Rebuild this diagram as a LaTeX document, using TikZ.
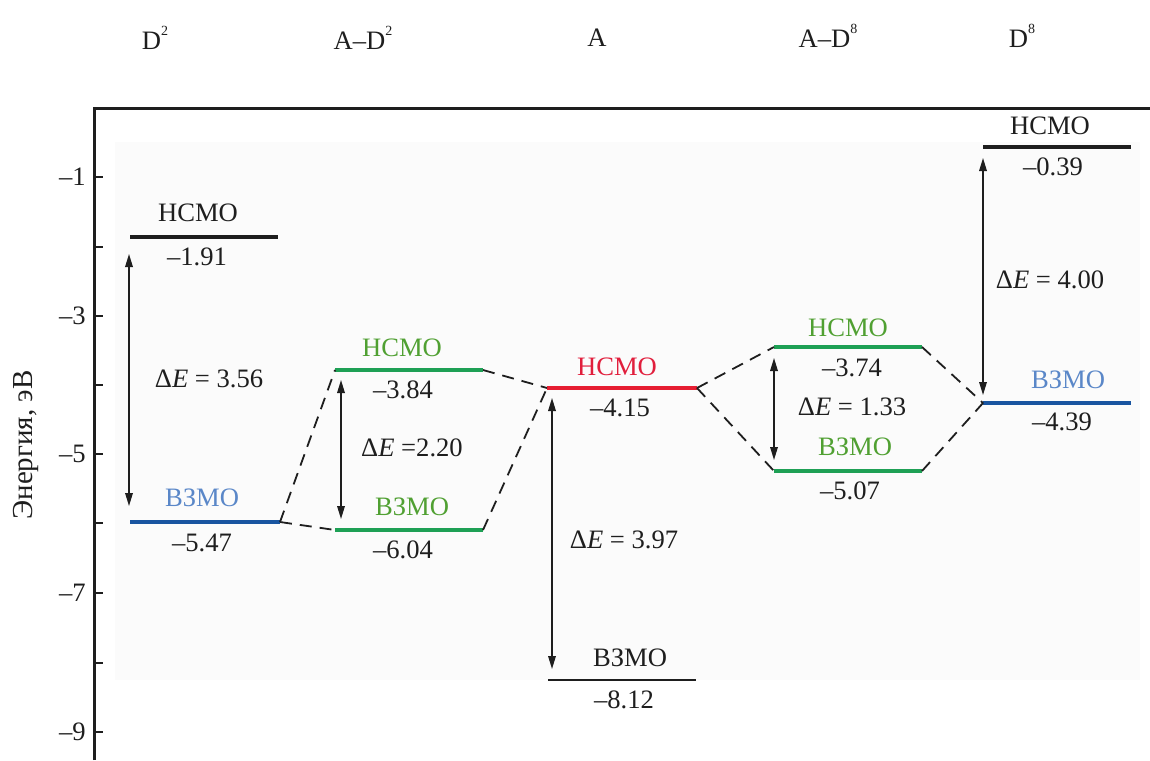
\documentclass[tikz,border=0pt]{standalone}
\usepackage{fontspec}
\setmainfont{Liberation Serif}
\usetikzlibrary{arrows.meta}
\definecolor{bgc}{RGB}{251,251,251}
\definecolor{grl}{RGB}{30,160,85}
\definecolor{grt}{RGB}{80,160,50}
\definecolor{rdl}{RGB}{230,30,50}
\definecolor{rdt}{RGB}{225,30,60}
\definecolor{bll}{RGB}{25,85,160}
\definecolor{blt}{RGB}{90,135,200}
\definecolor{blk}{RGB}{30,30,30}
\newcommand{\supn}[1]{\raisebox{0.5em}{\fontsize{7}{8}\selectfont #1}}
\begin{document}
\begin{tikzpicture}[x=0.5pt,y=-0.5pt,
  font=\fontsize{13.3}{15}\selectfont,
  lvl/.style={line width=1.7pt},
  conn/.style={dash pattern=on 6pt off 4pt, line width=0.9pt, blk},
  gaparrow/.style={{Triangle[length=6.5pt,width=3.8pt]}-{Triangle[length=6.5pt,width=3.8pt]}, line width=0.7pt, blk},
  lab/.style={inner sep=0pt, anchor=center, text=blk},
  hdr/.style={inner sep=0pt, anchor=center, text=blk}]
\useasboundingbox (0,0) rectangle (1150,760);
\fill[bgc] (115,142) rectangle (1140,680);
% axes
\draw[line width=1.5pt, blk] (94,760) -- (94,108) -- (1150,108);
\foreach \v/\yy in {1/177,3/316,5/454,7/593,9/732}{
  \draw[line width=1.2pt, blk] (94,\yy) -- (103,\yy);
  \node[lab, anchor=east] (t\v) at (86,\yy) {–\v};
}
\foreach \yy in {247,385,523,663}{
  \draw[line width=1.2pt, blk] (94,\yy) -- (103,\yy);
}
\node[lab, rotate=90, font=\fontsize{14.5}{16}\selectfont] (ylab) at (26,445) {Энергия, эВ};
% headers
\node[hdr] (h1) at (155,38) {D\supn{2}};
\node[hdr] (h2) at (363,38) {A–D\supn{2}};
\node[hdr] (h3) at (597,38) {A};
\node[hdr] (h4) at (828,36) {A–D\supn{8}};
\node[hdr] (h5) at (1022,36) {D\supn{8}};
% level endpoints
\coordinate (d2lL) at (130,237); \coordinate (d2lR) at (278,237);
\coordinate (d2hL) at (130,522); \coordinate (d2hR) at (280,522);
\coordinate (a2lL) at (335,370); \coordinate (a2lR) at (483,370);
\coordinate (a2hL) at (335,530); \coordinate (a2hR) at (483,530);
\coordinate (alL) at (547,388); \coordinate (alR) at (697,388);
\coordinate (ahL) at (548,680); \coordinate (ahR) at (696,680);
\coordinate (a8lL) at (774,347); \coordinate (a8lR) at (922,347);
\coordinate (a8hL) at (774,471); \coordinate (a8hR) at (922,471);
\coordinate (d8lL) at (983,147); \coordinate (d8lR) at (1131,147);
\coordinate (d8hL) at (983,403); \coordinate (d8hR) at (1131,403);
% levels
\draw[lvl, blk] (d2lL) -- (d2lR);
\draw[lvl, bll] (d2hL) -- (d2hR);
\draw[lvl, grl] (a2lL) -- (a2lR);
\draw[lvl, grl] (a2hL) -- (a2hR);
\draw[lvl, rdl] (alL) -- (alR);
\draw[line width=0.8pt, blk] (ahL) -- (ahR);
\draw[lvl, grl] (a8lL) -- (a8lR);
\draw[lvl, grl] (a8hL) -- (a8hR);
\draw[lvl, blk] (d8lL) -- (d8lR);
\draw[lvl, bll] (d8hL) -- (d8hR);
% correlation lines
\draw[conn] (d2hR) -- (a2lL);
\draw[conn] (d2hR) -- (a2hL);
\draw[conn] (a2lR) -- (alL);
\draw[conn] (a2hR) -- (alL);
\draw[conn] (alR) -- (a8lL);
\draw[conn] (alR) -- (a8hL);
\draw[conn] (a8lR) -- (d8hL);
\draw[conn] (a8hR) -- (d8hL);
% gap arrows
\coordinate (g1t) at (129,254); \coordinate (g1b) at (129,506);
\coordinate (g2t) at (341,380); \coordinate (g2b) at (341,519);
\coordinate (g3t) at (552,398); \coordinate (g3b) at (552,669);
\coordinate (g4t) at (774,358); \coordinate (g4b) at (774,460);
\coordinate (g5t) at (983,158); \coordinate (g5b) at (983,395);
\draw[gaparrow] (g1t) -- (g1b);
\draw[gaparrow] (g2t) -- (g2b);
\draw[gaparrow] (g3t) -- (g3b);
\draw[gaparrow] (g4t) -- (g4b);
\draw[gaparrow] (g5t) -- (g5b);
% labels D2
\node[lab] (n1) at (198,213) {НСМО};
\node[lab] (v1) at (197,257) {–1.91};
\node[lab, text=blt] (n2) at (202,498) {ВЗМО};
\node[lab] (v2) at (202,543) {–5.47};
\node[lab] (e1) at (209,379) {Δ\textit{E} = 3.56};
% labels A-D2
\node[lab, text=grt] (n3) at (402,348) {НСМО};
\node[lab] (v3) at (403,390) {–3.84};
\node[lab, text=grt] (n4) at (412,507) {ВЗМО};
\node[lab] (v4) at (403,550) {–6.04};
\node[lab] (e2) at (412,448) {Δ\textit{E} =2.20};
% labels A
\node[lab, text=rdt] (n5) at (617,367) {НСМО};
\node[lab] (v5) at (620,408) {–4.15};
\node[lab] (n6) at (630,658) {ВЗМО};
\node[lab] (v6) at (624,700) {–8.12};
\node[lab] (e3) at (624,540) {Δ\textit{E} = 3.97};
% labels A-D8
\node[lab, text=grt] (n7) at (848,328) {НСМО};
\node[lab] (v7) at (852,368) {–3.74};
\node[lab, text=grt] (n8) at (855,447) {ВЗМО};
\node[lab] (v8) at (850,491) {–5.07};
\node[lab] (e4) at (852,407) {Δ\textit{E} = 1.33};
% labels D8
\node[lab] (n9) at (1050,126) {НСМО};
\node[lab] (v9) at (1053,167) {–0.39};
\node[lab, text=blt] (n10) at (1068,380) {ВЗМО};
\node[lab] (v10) at (1062,422) {–4.39};
\node[lab] (e5) at (1050,280) {Δ\textit{E} = 4.00};
\end{tikzpicture}
\end{document}
